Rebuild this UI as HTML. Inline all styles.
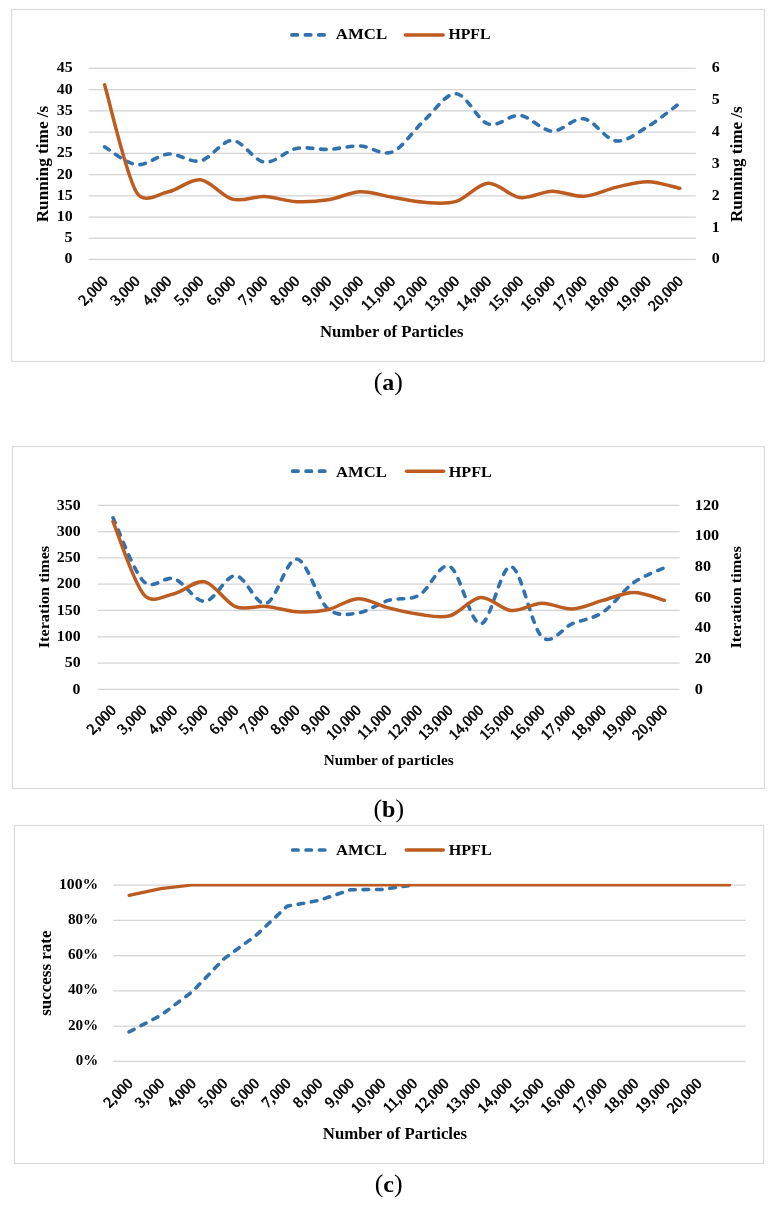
<!DOCTYPE html>
<html><head><meta charset="utf-8"><style>
html,body{margin:0;padding:0;background:#fff;width:776px;height:1206px;overflow:hidden}
svg{display:block;will-change:transform}
text{font-family:"Liberation Serif", serif;fill:#000}
</style></head><body>
<svg width="776" height="1206" viewBox="0 0 776 1206">
<rect x="11.50" y="9.50" width="753.00" height="352.00" fill="none" stroke="#d9d9d9" stroke-width="1.2"/>
<line x1="88.60" y1="259.45" x2="695.80" y2="259.45" stroke="#d4d4d4" stroke-width="1.25"/>
<line x1="88.60" y1="238.23" x2="695.80" y2="238.23" stroke="#d4d4d4" stroke-width="1.25"/>
<line x1="88.60" y1="217.01" x2="695.80" y2="217.01" stroke="#d4d4d4" stroke-width="1.25"/>
<line x1="88.60" y1="195.79" x2="695.80" y2="195.79" stroke="#d4d4d4" stroke-width="1.25"/>
<line x1="88.60" y1="174.57" x2="695.80" y2="174.57" stroke="#d4d4d4" stroke-width="1.25"/>
<line x1="88.60" y1="153.35" x2="695.80" y2="153.35" stroke="#d4d4d4" stroke-width="1.25"/>
<line x1="88.60" y1="132.13" x2="695.80" y2="132.13" stroke="#d4d4d4" stroke-width="1.25"/>
<line x1="88.60" y1="110.91" x2="695.80" y2="110.91" stroke="#d4d4d4" stroke-width="1.25"/>
<line x1="88.60" y1="89.69" x2="695.80" y2="89.69" stroke="#d4d4d4" stroke-width="1.25"/>
<line x1="88.60" y1="68.47" x2="695.80" y2="68.47" stroke="#d4d4d4" stroke-width="1.25"/>
<path d="M104.58,146.83 C109.91,149.80 125.88,163.46 136.54,164.66 C147.19,165.86 157.84,154.69 168.49,154.05 C179.15,153.41 189.80,163.10 200.45,160.84 C211.11,158.58 221.76,140.26 232.41,140.47 C243.06,140.68 253.72,160.77 264.37,162.11 C275.02,163.46 285.67,150.65 296.33,148.53 C306.98,146.41 317.63,149.80 328.28,149.38 C338.94,148.96 349.59,145.56 360.24,145.99 C370.89,146.41 381.55,156.17 392.20,151.93 C402.85,147.68 413.51,130.21 424.16,120.52 C434.81,110.83 445.46,93.22 456.12,93.78 C466.77,94.35 477.42,120.31 488.07,123.92 C498.73,127.52 509.38,114.23 520.03,115.43 C530.68,116.63 541.34,130.57 551.99,131.13 C562.64,131.70 573.29,117.20 583.95,118.82 C594.60,120.45 605.25,139.62 615.91,140.89 C626.56,142.17 637.21,132.76 647.86,126.46 C658.52,120.17 674.49,107.01 679.82,103.12" fill="none" stroke="#3172ae" stroke-width="3.6" stroke-linecap="round" stroke-dasharray="5.6 7.8"/>
<path d="M104.58,84.87 C109.91,102.80 125.88,174.63 136.54,192.46 C143.92,204.80 157.84,193.94 168.49,191.82 C179.15,189.70 189.80,178.50 200.45,179.73 C211.11,180.95 221.76,196.33 232.41,199.14 C243.06,201.95 253.72,196.17 264.37,196.59 C275.02,197.02 285.67,201.16 296.33,201.69 C306.98,202.22 317.63,201.42 328.28,199.78 C338.94,198.13 349.59,192.24 360.24,191.82 C370.89,191.40 381.55,195.48 392.20,197.23 C402.85,198.98 413.51,201.63 424.16,202.32 C434.81,203.01 445.46,204.55 456.12,201.37 C466.77,198.19 477.42,183.86 488.07,183.23 C498.73,182.59 509.38,196.22 520.03,197.55 C530.68,198.88 541.34,191.40 551.99,191.18 C562.64,190.97 573.29,196.91 583.95,196.28 C594.60,195.64 605.25,189.80 615.91,187.36 C626.56,184.92 637.21,181.48 647.86,181.63 C658.52,181.79 674.49,187.21 679.82,188.32" fill="none" stroke="#bc5c20" stroke-width="3.5" stroke-linecap="round"/>
<text x="72.60" y="263.40" font-size="15.60" font-weight="bold" text-anchor="end" textLength="7.96" lengthAdjust="spacingAndGlyphs" >0</text>
<text x="72.60" y="242.18" font-size="15.60" font-weight="bold" text-anchor="end" textLength="7.96" lengthAdjust="spacingAndGlyphs" >5</text>
<text x="72.60" y="220.96" font-size="15.60" font-weight="bold" text-anchor="end" textLength="15.91" lengthAdjust="spacingAndGlyphs" >10</text>
<text x="72.60" y="199.74" font-size="15.60" font-weight="bold" text-anchor="end" textLength="15.91" lengthAdjust="spacingAndGlyphs" >15</text>
<text x="72.60" y="178.52" font-size="15.60" font-weight="bold" text-anchor="end" textLength="15.91" lengthAdjust="spacingAndGlyphs" >20</text>
<text x="72.60" y="157.30" font-size="15.60" font-weight="bold" text-anchor="end" textLength="15.91" lengthAdjust="spacingAndGlyphs" >25</text>
<text x="72.60" y="136.08" font-size="15.60" font-weight="bold" text-anchor="end" textLength="15.91" lengthAdjust="spacingAndGlyphs" >30</text>
<text x="72.60" y="114.86" font-size="15.60" font-weight="bold" text-anchor="end" textLength="15.91" lengthAdjust="spacingAndGlyphs" >35</text>
<text x="72.60" y="93.64" font-size="15.60" font-weight="bold" text-anchor="end" textLength="15.91" lengthAdjust="spacingAndGlyphs" >40</text>
<text x="72.60" y="72.42" font-size="15.60" font-weight="bold" text-anchor="end" textLength="15.91" lengthAdjust="spacingAndGlyphs" >45</text>
<text x="711.80" y="263.40" font-size="15.60" font-weight="bold" text-anchor="start" textLength="7.96" lengthAdjust="spacingAndGlyphs" >0</text>
<text x="711.80" y="231.57" font-size="15.60" font-weight="bold" text-anchor="start" textLength="7.96" lengthAdjust="spacingAndGlyphs" >1</text>
<text x="711.80" y="199.74" font-size="15.60" font-weight="bold" text-anchor="start" textLength="7.96" lengthAdjust="spacingAndGlyphs" >2</text>
<text x="711.80" y="167.91" font-size="15.60" font-weight="bold" text-anchor="start" textLength="7.96" lengthAdjust="spacingAndGlyphs" >3</text>
<text x="711.80" y="136.08" font-size="15.60" font-weight="bold" text-anchor="start" textLength="7.96" lengthAdjust="spacingAndGlyphs" >4</text>
<text x="711.80" y="104.25" font-size="15.60" font-weight="bold" text-anchor="start" textLength="7.96" lengthAdjust="spacingAndGlyphs" >5</text>
<text x="711.80" y="72.42" font-size="15.60" font-weight="bold" text-anchor="start" textLength="7.96" lengthAdjust="spacingAndGlyphs" >6</text>
<text transform="translate(48.00,164.00) rotate(-90)" x="0" y="0" font-size="16.00" font-weight="bold" text-anchor="middle" textLength="116.60" lengthAdjust="spacingAndGlyphs">Running time /s</text>
<text transform="translate(741.50,164.20) rotate(-90)" x="0" y="0" font-size="16.00" font-weight="bold" text-anchor="middle" textLength="115.60" lengthAdjust="spacingAndGlyphs">Running time /s</text>
<text transform="translate(108.58,282.10) rotate(-45)" x="0" y="0" font-size="15.20" font-weight="normal" stroke="#000" stroke-width="0.6" text-anchor="end">2,000</text>
<text transform="translate(140.54,282.10) rotate(-45)" x="0" y="0" font-size="15.20" font-weight="normal" stroke="#000" stroke-width="0.6" text-anchor="end">3,000</text>
<text transform="translate(172.49,282.10) rotate(-45)" x="0" y="0" font-size="15.20" font-weight="normal" stroke="#000" stroke-width="0.6" text-anchor="end">4,000</text>
<text transform="translate(204.45,282.10) rotate(-45)" x="0" y="0" font-size="15.20" font-weight="normal" stroke="#000" stroke-width="0.6" text-anchor="end">5,000</text>
<text transform="translate(236.41,282.10) rotate(-45)" x="0" y="0" font-size="15.20" font-weight="normal" stroke="#000" stroke-width="0.6" text-anchor="end">6,000</text>
<text transform="translate(268.37,282.10) rotate(-45)" x="0" y="0" font-size="15.20" font-weight="normal" stroke="#000" stroke-width="0.6" text-anchor="end">7,000</text>
<text transform="translate(300.33,282.10) rotate(-45)" x="0" y="0" font-size="15.20" font-weight="normal" stroke="#000" stroke-width="0.6" text-anchor="end">8,000</text>
<text transform="translate(332.28,282.10) rotate(-45)" x="0" y="0" font-size="15.20" font-weight="normal" stroke="#000" stroke-width="0.6" text-anchor="end">9,000</text>
<text transform="translate(364.24,282.10) rotate(-45)" x="0" y="0" font-size="15.20" font-weight="normal" stroke="#000" stroke-width="0.6" text-anchor="end">10,000</text>
<text transform="translate(396.20,282.10) rotate(-45)" x="0" y="0" font-size="15.20" font-weight="normal" stroke="#000" stroke-width="0.6" text-anchor="end">11,000</text>
<text transform="translate(428.16,282.10) rotate(-45)" x="0" y="0" font-size="15.20" font-weight="normal" stroke="#000" stroke-width="0.6" text-anchor="end">12,000</text>
<text transform="translate(460.12,282.10) rotate(-45)" x="0" y="0" font-size="15.20" font-weight="normal" stroke="#000" stroke-width="0.6" text-anchor="end">13,000</text>
<text transform="translate(492.07,282.10) rotate(-45)" x="0" y="0" font-size="15.20" font-weight="normal" stroke="#000" stroke-width="0.6" text-anchor="end">14,000</text>
<text transform="translate(524.03,282.10) rotate(-45)" x="0" y="0" font-size="15.20" font-weight="normal" stroke="#000" stroke-width="0.6" text-anchor="end">15,000</text>
<text transform="translate(555.99,282.10) rotate(-45)" x="0" y="0" font-size="15.20" font-weight="normal" stroke="#000" stroke-width="0.6" text-anchor="end">16,000</text>
<text transform="translate(587.95,282.10) rotate(-45)" x="0" y="0" font-size="15.20" font-weight="normal" stroke="#000" stroke-width="0.6" text-anchor="end">17,000</text>
<text transform="translate(619.91,282.10) rotate(-45)" x="0" y="0" font-size="15.20" font-weight="normal" stroke="#000" stroke-width="0.6" text-anchor="end">18,000</text>
<text transform="translate(651.86,282.10) rotate(-45)" x="0" y="0" font-size="15.20" font-weight="normal" stroke="#000" stroke-width="0.6" text-anchor="end">19,000</text>
<text transform="translate(683.82,282.10) rotate(-45)" x="0" y="0" font-size="15.20" font-weight="normal" stroke="#000" stroke-width="0.6" text-anchor="end">20,000</text>
<text x="320.00" y="337.10" font-size="16.00" font-weight="bold" text-anchor="start" textLength="143.40" lengthAdjust="spacingAndGlyphs" >Number of Particles</text>
<text x="388.30" y="390.30" font-size="25.92" text-anchor="middle"><tspan>(</tspan><tspan font-weight="bold" font-size="24.00">a</tspan><tspan>)</tspan></text>
<line x1="291.95" y1="34.90" x2="324.55" y2="34.90" stroke="#3172ae" stroke-width="3.7" stroke-linecap="round" stroke-dasharray="5.4 8.0"/>
<line x1="405.35" y1="34.90" x2="443.15" y2="34.90" stroke="#bc5c20" stroke-width="3.5" stroke-linecap="round"/>
<text x="335.80" y="39.30" font-size="15.00" font-weight="bold" text-anchor="start" textLength="51.40" lengthAdjust="spacingAndGlyphs" >AMCL</text>
<text x="448.40" y="39.30" font-size="15.00" font-weight="bold" text-anchor="start" textLength="42.00" lengthAdjust="spacingAndGlyphs" >HPFL</text>
<rect x="12.50" y="446.50" width="752.00" height="342.00" fill="none" stroke="#d9d9d9" stroke-width="1.2"/>
<line x1="97.70" y1="689.35" x2="679.60" y2="689.35" stroke="#d4d4d4" stroke-width="1.25"/>
<line x1="97.70" y1="663.06" x2="679.60" y2="663.06" stroke="#d4d4d4" stroke-width="1.25"/>
<line x1="97.70" y1="636.77" x2="679.60" y2="636.77" stroke="#d4d4d4" stroke-width="1.25"/>
<line x1="97.70" y1="610.48" x2="679.60" y2="610.48" stroke="#d4d4d4" stroke-width="1.25"/>
<line x1="97.70" y1="584.19" x2="679.60" y2="584.19" stroke="#d4d4d4" stroke-width="1.25"/>
<line x1="97.70" y1="557.90" x2="679.60" y2="557.90" stroke="#d4d4d4" stroke-width="1.25"/>
<line x1="97.70" y1="531.61" x2="679.60" y2="531.61" stroke="#d4d4d4" stroke-width="1.25"/>
<line x1="97.70" y1="505.32" x2="679.60" y2="505.32" stroke="#d4d4d4" stroke-width="1.25"/>
<path d="M113.01,517.79 C118.12,528.39 133.43,571.25 143.64,581.41 C153.44,591.17 164.06,575.45 174.27,578.78 C184.47,582.11 194.68,601.92 204.89,601.39 C215.10,600.87 225.31,575.28 235.52,575.63 C245.73,575.98 255.94,606.26 266.14,603.49 C276.35,600.73 286.56,558.28 296.77,559.06 C306.98,559.85 317.19,599.24 327.40,608.23 C337.61,617.21 347.81,614.27 358.02,612.96 C368.23,611.64 378.44,603.32 388.65,600.34 C398.86,597.36 409.07,600.73 419.28,595.08 C429.49,589.44 439.69,561.66 449.90,566.48 C460.11,571.30 470.32,624.00 480.53,624.00 C490.74,624.00 500.95,564.35 511.16,566.48 C521.36,568.61 531.57,627.24 541.78,636.78 C551.99,646.31 562.20,627.80 572.41,623.69 C582.62,619.57 592.83,618.90 603.03,612.07 C613.24,605.23 623.45,590.06 633.66,582.67 C643.87,575.29 659.18,570.23 664.29,567.74" fill="none" stroke="#3172ae" stroke-width="3.6" stroke-linecap="round" stroke-dasharray="5.6 7.8"/>
<path d="M113.01,521.58 C118.12,533.69 133.43,582.26 143.64,594.27 C152.57,604.78 164.06,595.73 174.27,593.66 C184.47,591.59 194.68,579.68 204.89,581.85 C215.10,584.02 225.31,602.60 235.52,606.69 C245.73,610.78 255.94,605.54 266.14,606.39 C276.35,607.23 286.56,611.19 296.77,611.75 C306.98,612.32 317.19,611.93 327.40,609.76 C337.61,607.59 347.81,599.03 358.02,598.72 C368.23,598.41 378.44,605.31 388.65,607.92 C398.86,610.53 409.07,613.06 419.28,614.36 C429.49,615.66 439.69,618.55 449.90,615.74 C460.11,612.93 470.32,598.36 480.53,597.49 C490.74,596.62 500.95,609.56 511.16,610.53 C521.36,611.50 531.57,603.57 541.78,603.32 C551.99,603.06 562.20,609.48 572.41,608.99 C582.62,608.51 592.83,603.17 603.03,600.41 C613.24,597.65 623.45,592.46 633.66,592.43 C643.87,592.41 659.18,598.95 664.29,600.25" fill="none" stroke="#bc5c20" stroke-width="3.5" stroke-linecap="round"/>
<text x="80.60" y="693.60" font-size="15.30" font-weight="bold" text-anchor="end" textLength="7.96" lengthAdjust="spacingAndGlyphs" >0</text>
<text x="80.60" y="667.31" font-size="15.30" font-weight="bold" text-anchor="end" textLength="15.91" lengthAdjust="spacingAndGlyphs" >50</text>
<text x="80.60" y="641.02" font-size="15.30" font-weight="bold" text-anchor="end" textLength="23.87" lengthAdjust="spacingAndGlyphs" >100</text>
<text x="80.60" y="614.73" font-size="15.30" font-weight="bold" text-anchor="end" textLength="23.87" lengthAdjust="spacingAndGlyphs" >150</text>
<text x="80.60" y="588.44" font-size="15.30" font-weight="bold" text-anchor="end" textLength="23.87" lengthAdjust="spacingAndGlyphs" >200</text>
<text x="80.60" y="562.15" font-size="15.30" font-weight="bold" text-anchor="end" textLength="23.87" lengthAdjust="spacingAndGlyphs" >250</text>
<text x="80.60" y="535.86" font-size="15.30" font-weight="bold" text-anchor="end" textLength="23.87" lengthAdjust="spacingAndGlyphs" >300</text>
<text x="80.60" y="509.57" font-size="15.30" font-weight="bold" text-anchor="end" textLength="23.87" lengthAdjust="spacingAndGlyphs" >350</text>
<text x="694.80" y="693.60" font-size="15.30" font-weight="bold" text-anchor="start" textLength="8.11" lengthAdjust="spacingAndGlyphs" >0</text>
<text x="694.80" y="662.93" font-size="15.30" font-weight="bold" text-anchor="start" textLength="16.22" lengthAdjust="spacingAndGlyphs" >20</text>
<text x="694.80" y="632.26" font-size="15.30" font-weight="bold" text-anchor="start" textLength="16.22" lengthAdjust="spacingAndGlyphs" >40</text>
<text x="694.80" y="601.59" font-size="15.30" font-weight="bold" text-anchor="start" textLength="16.22" lengthAdjust="spacingAndGlyphs" >60</text>
<text x="694.80" y="570.91" font-size="15.30" font-weight="bold" text-anchor="start" textLength="16.22" lengthAdjust="spacingAndGlyphs" >80</text>
<text x="694.80" y="540.24" font-size="15.30" font-weight="bold" text-anchor="start" textLength="24.33" lengthAdjust="spacingAndGlyphs" >100</text>
<text x="694.80" y="509.57" font-size="15.30" font-weight="bold" text-anchor="start" textLength="24.33" lengthAdjust="spacingAndGlyphs" >120</text>
<text transform="translate(48.60,597.05) rotate(-90)" x="0" y="0" font-size="15.50" font-weight="bold" text-anchor="middle" textLength="102.50" lengthAdjust="spacingAndGlyphs">Iteration times</text>
<text transform="translate(740.90,597.35) rotate(-90)" x="0" y="0" font-size="15.50" font-weight="bold" text-anchor="middle" textLength="102.50" lengthAdjust="spacingAndGlyphs">Iteration times</text>
<text transform="translate(116.81,711.20) rotate(-45)" x="0" y="0" font-size="15.20" font-weight="normal" stroke="#000" stroke-width="0.6" text-anchor="end">2,000</text>
<text transform="translate(147.44,711.20) rotate(-45)" x="0" y="0" font-size="15.20" font-weight="normal" stroke="#000" stroke-width="0.6" text-anchor="end">3,000</text>
<text transform="translate(178.07,711.20) rotate(-45)" x="0" y="0" font-size="15.20" font-weight="normal" stroke="#000" stroke-width="0.6" text-anchor="end">4,000</text>
<text transform="translate(208.69,711.20) rotate(-45)" x="0" y="0" font-size="15.20" font-weight="normal" stroke="#000" stroke-width="0.6" text-anchor="end">5,000</text>
<text transform="translate(239.32,711.20) rotate(-45)" x="0" y="0" font-size="15.20" font-weight="normal" stroke="#000" stroke-width="0.6" text-anchor="end">6,000</text>
<text transform="translate(269.94,711.20) rotate(-45)" x="0" y="0" font-size="15.20" font-weight="normal" stroke="#000" stroke-width="0.6" text-anchor="end">7,000</text>
<text transform="translate(300.57,711.20) rotate(-45)" x="0" y="0" font-size="15.20" font-weight="normal" stroke="#000" stroke-width="0.6" text-anchor="end">8,000</text>
<text transform="translate(331.20,711.20) rotate(-45)" x="0" y="0" font-size="15.20" font-weight="normal" stroke="#000" stroke-width="0.6" text-anchor="end">9,000</text>
<text transform="translate(361.82,711.20) rotate(-45)" x="0" y="0" font-size="15.20" font-weight="normal" stroke="#000" stroke-width="0.6" text-anchor="end">10,000</text>
<text transform="translate(392.45,711.20) rotate(-45)" x="0" y="0" font-size="15.20" font-weight="normal" stroke="#000" stroke-width="0.6" text-anchor="end">11,000</text>
<text transform="translate(423.08,711.20) rotate(-45)" x="0" y="0" font-size="15.20" font-weight="normal" stroke="#000" stroke-width="0.6" text-anchor="end">12,000</text>
<text transform="translate(453.70,711.20) rotate(-45)" x="0" y="0" font-size="15.20" font-weight="normal" stroke="#000" stroke-width="0.6" text-anchor="end">13,000</text>
<text transform="translate(484.33,711.20) rotate(-45)" x="0" y="0" font-size="15.20" font-weight="normal" stroke="#000" stroke-width="0.6" text-anchor="end">14,000</text>
<text transform="translate(514.96,711.20) rotate(-45)" x="0" y="0" font-size="15.20" font-weight="normal" stroke="#000" stroke-width="0.6" text-anchor="end">15,000</text>
<text transform="translate(545.58,711.20) rotate(-45)" x="0" y="0" font-size="15.20" font-weight="normal" stroke="#000" stroke-width="0.6" text-anchor="end">16,000</text>
<text transform="translate(576.21,711.20) rotate(-45)" x="0" y="0" font-size="15.20" font-weight="normal" stroke="#000" stroke-width="0.6" text-anchor="end">17,000</text>
<text transform="translate(606.83,711.20) rotate(-45)" x="0" y="0" font-size="15.20" font-weight="normal" stroke="#000" stroke-width="0.6" text-anchor="end">18,000</text>
<text transform="translate(637.46,711.20) rotate(-45)" x="0" y="0" font-size="15.20" font-weight="normal" stroke="#000" stroke-width="0.6" text-anchor="end">19,000</text>
<text transform="translate(668.09,711.20) rotate(-45)" x="0" y="0" font-size="15.20" font-weight="normal" stroke="#000" stroke-width="0.6" text-anchor="end">20,000</text>
<text x="323.80" y="764.90" font-size="14.50" font-weight="bold" text-anchor="start" textLength="129.80" lengthAdjust="spacingAndGlyphs" >Number of particles</text>
<text x="388.70" y="816.60" font-size="25.92" text-anchor="middle"><tspan>(</tspan><tspan font-weight="bold" font-size="24.00">b</tspan><tspan>)</tspan></text>
<line x1="292.65" y1="471.20" x2="324.95" y2="471.20" stroke="#3172ae" stroke-width="3.7" stroke-linecap="round" stroke-dasharray="5.4 8.0"/>
<line x1="406.55" y1="471.20" x2="443.55" y2="471.20" stroke="#bc5c20" stroke-width="3.5" stroke-linecap="round"/>
<text x="336.10" y="476.80" font-size="15.00" font-weight="bold" text-anchor="start" textLength="50.60" lengthAdjust="spacingAndGlyphs" >AMCL</text>
<text x="448.70" y="476.80" font-size="15.00" font-weight="bold" text-anchor="start" textLength="43.20" lengthAdjust="spacingAndGlyphs" >HPFL</text>
<rect x="14.50" y="825.50" width="749.00" height="338.00" fill="none" stroke="#d9d9d9" stroke-width="1.2"/>
<line x1="113.30" y1="1061.45" x2="745.50" y2="1061.45" stroke="#d4d4d4" stroke-width="1.25"/>
<line x1="113.30" y1="1026.19" x2="745.50" y2="1026.19" stroke="#d4d4d4" stroke-width="1.25"/>
<line x1="113.30" y1="990.93" x2="745.50" y2="990.93" stroke="#d4d4d4" stroke-width="1.25"/>
<line x1="113.30" y1="955.67" x2="745.50" y2="955.67" stroke="#d4d4d4" stroke-width="1.25"/>
<line x1="113.30" y1="920.41" x2="745.50" y2="920.41" stroke="#d4d4d4" stroke-width="1.25"/>
<line x1="113.30" y1="885.15" x2="745.50" y2="885.15" stroke="#d4d4d4" stroke-width="1.25"/>
<clipPath id="cc"><rect x="100" y="883.8" width="660" height="200"/></clipPath>
<path clip-path="url(#cc)" d="M129.10,1031.86 L160.72,1015.46 L192.32,991.66 L223.94,958.87 L255.55,935.77 L287.15,906.16 L318.76,900.51 L350.38,889.76 L381.99,889.41 L413.60,885.00" fill="none" stroke="#3172ae" stroke-width="3.6" stroke-linecap="round" stroke-dasharray="5.6 7.8"/>
<path clip-path="url(#cc)" d="M129.10,895.40 L160.72,888.70 L192.32,885.00 L223.94,885.00 L255.55,885.00 L287.15,885.00 L318.76,885.00 L350.38,885.00 L381.99,885.00 L413.60,885.00 L445.21,885.00 L476.82,885.00 L508.43,885.00 L540.04,885.00 L571.64,885.00 L603.25,885.00 L634.87,885.00 L666.48,885.00 L698.09,885.00 L729.70,885.00" fill="none" stroke="#bc5c20" stroke-width="3.2" stroke-linecap="round"/>
<text x="98.20" y="1064.90" font-size="15.60" font-weight="bold" text-anchor="end" textLength="22.40" lengthAdjust="spacingAndGlyphs" >0%</text>
<text x="98.20" y="1029.64" font-size="15.60" font-weight="bold" text-anchor="end" textLength="30.30" lengthAdjust="spacingAndGlyphs" >20%</text>
<text x="98.20" y="994.38" font-size="15.60" font-weight="bold" text-anchor="end" textLength="30.30" lengthAdjust="spacingAndGlyphs" >40%</text>
<text x="98.20" y="959.12" font-size="15.60" font-weight="bold" text-anchor="end" textLength="30.30" lengthAdjust="spacingAndGlyphs" >60%</text>
<text x="98.20" y="923.86" font-size="15.60" font-weight="bold" text-anchor="end" textLength="30.30" lengthAdjust="spacingAndGlyphs" >80%</text>
<text x="98.20" y="888.60" font-size="15.60" font-weight="bold" text-anchor="end" textLength="39.20" lengthAdjust="spacingAndGlyphs" >100%</text>
<text transform="translate(51.40,973.15) rotate(-90)" x="0" y="0" font-size="16.00" font-weight="bold" text-anchor="middle" textLength="85.30" lengthAdjust="spacingAndGlyphs">success rate</text>
<text transform="translate(133.60,1084.40) rotate(-45)" x="0" y="0" font-size="15.20" font-weight="normal" stroke="#000" stroke-width="0.6" text-anchor="end">2,000</text>
<text transform="translate(165.22,1084.40) rotate(-45)" x="0" y="0" font-size="15.20" font-weight="normal" stroke="#000" stroke-width="0.6" text-anchor="end">3,000</text>
<text transform="translate(196.82,1084.40) rotate(-45)" x="0" y="0" font-size="15.20" font-weight="normal" stroke="#000" stroke-width="0.6" text-anchor="end">4,000</text>
<text transform="translate(228.44,1084.40) rotate(-45)" x="0" y="0" font-size="15.20" font-weight="normal" stroke="#000" stroke-width="0.6" text-anchor="end">5,000</text>
<text transform="translate(260.05,1084.40) rotate(-45)" x="0" y="0" font-size="15.20" font-weight="normal" stroke="#000" stroke-width="0.6" text-anchor="end">6,000</text>
<text transform="translate(291.65,1084.40) rotate(-45)" x="0" y="0" font-size="15.20" font-weight="normal" stroke="#000" stroke-width="0.6" text-anchor="end">7,000</text>
<text transform="translate(323.26,1084.40) rotate(-45)" x="0" y="0" font-size="15.20" font-weight="normal" stroke="#000" stroke-width="0.6" text-anchor="end">8,000</text>
<text transform="translate(354.88,1084.40) rotate(-45)" x="0" y="0" font-size="15.20" font-weight="normal" stroke="#000" stroke-width="0.6" text-anchor="end">9,000</text>
<text transform="translate(386.49,1084.40) rotate(-45)" x="0" y="0" font-size="15.20" font-weight="normal" stroke="#000" stroke-width="0.6" text-anchor="end">10,000</text>
<text transform="translate(418.10,1084.40) rotate(-45)" x="0" y="0" font-size="15.20" font-weight="normal" stroke="#000" stroke-width="0.6" text-anchor="end">11,000</text>
<text transform="translate(449.71,1084.40) rotate(-45)" x="0" y="0" font-size="15.20" font-weight="normal" stroke="#000" stroke-width="0.6" text-anchor="end">12,000</text>
<text transform="translate(481.32,1084.40) rotate(-45)" x="0" y="0" font-size="15.20" font-weight="normal" stroke="#000" stroke-width="0.6" text-anchor="end">13,000</text>
<text transform="translate(512.93,1084.40) rotate(-45)" x="0" y="0" font-size="15.20" font-weight="normal" stroke="#000" stroke-width="0.6" text-anchor="end">14,000</text>
<text transform="translate(544.54,1084.40) rotate(-45)" x="0" y="0" font-size="15.20" font-weight="normal" stroke="#000" stroke-width="0.6" text-anchor="end">15,000</text>
<text transform="translate(576.14,1084.40) rotate(-45)" x="0" y="0" font-size="15.20" font-weight="normal" stroke="#000" stroke-width="0.6" text-anchor="end">16,000</text>
<text transform="translate(607.75,1084.40) rotate(-45)" x="0" y="0" font-size="15.20" font-weight="normal" stroke="#000" stroke-width="0.6" text-anchor="end">17,000</text>
<text transform="translate(639.37,1084.40) rotate(-45)" x="0" y="0" font-size="15.20" font-weight="normal" stroke="#000" stroke-width="0.6" text-anchor="end">18,000</text>
<text transform="translate(670.98,1084.40) rotate(-45)" x="0" y="0" font-size="15.20" font-weight="normal" stroke="#000" stroke-width="0.6" text-anchor="end">19,000</text>
<text transform="translate(702.59,1084.40) rotate(-45)" x="0" y="0" font-size="15.20" font-weight="normal" stroke="#000" stroke-width="0.6" text-anchor="end">20,000</text>
<text x="322.80" y="1138.90" font-size="16.00" font-weight="bold" text-anchor="start" textLength="144.20" lengthAdjust="spacingAndGlyphs" >Number of Particles</text>
<text x="388.70" y="1191.60" font-size="25.92" text-anchor="middle"><tspan>(</tspan><tspan font-weight="bold" font-size="24.00">c</tspan><tspan>)</tspan></text>
<line x1="292.65" y1="850.00" x2="324.95" y2="850.00" stroke="#3172ae" stroke-width="3.7" stroke-linecap="round" stroke-dasharray="5.4 8.0"/>
<line x1="406.25" y1="850.00" x2="443.25" y2="850.00" stroke="#bc5c20" stroke-width="3.5" stroke-linecap="round"/>
<text x="336.10" y="855.40" font-size="15.00" font-weight="bold" text-anchor="start" textLength="50.60" lengthAdjust="spacingAndGlyphs" >AMCL</text>
<text x="448.70" y="855.40" font-size="15.00" font-weight="bold" text-anchor="start" textLength="43.00" lengthAdjust="spacingAndGlyphs" >HPFL</text>
</svg>
</body></html>
